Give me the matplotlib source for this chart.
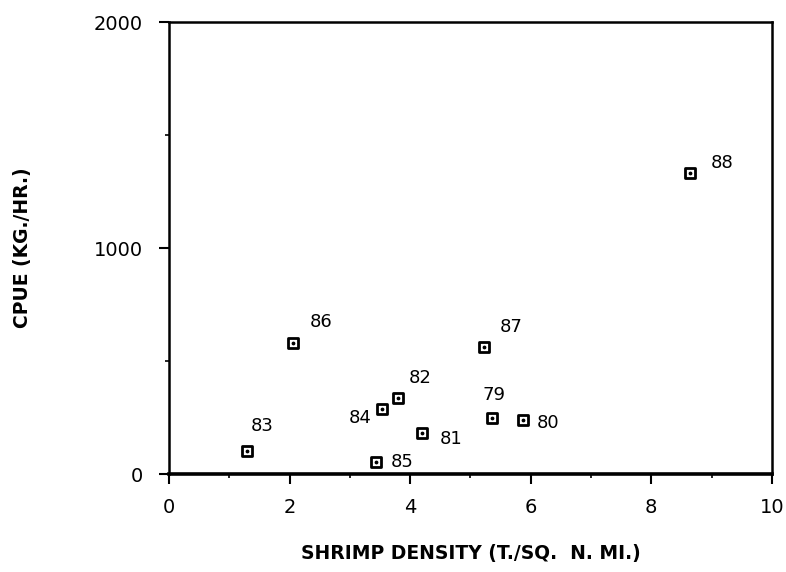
import matplotlib
matplotlib.use("Agg")
import matplotlib.pyplot as plt
from matplotlib.ticker import MultipleLocator

# shrimp density vs catch per unit effort, by year
years = ["79", "80", "81", "82", "83", "84", "85", "86", "87", "88"]
density = [5.36, 5.87, 4.19, 3.80, 1.30, 3.54, 3.44, 2.06, 5.22, 8.64]
cpue = [246, 239, 183, 338, 103, 286, 54, 581, 561, 1330]

# label offsets in pixels (dx, dy)
offsets = {"79": (2, 23), "80": (25, -3), "81": (30, -6), "82": (22, 20),
           "83": (15, 25), "84": (-22, -9), "85": (26, 0), "86": (28, 21),
           "87": (28, 20), "88": (32, 10)}

fig = plt.figure(figsize=(7.86, 5.72), dpi=100)
ax = fig.add_axes([0.215, 0.1713, 0.767, 0.7902])

ax.scatter(density, cpue, marker="s", s=55, facecolors="white",
           edgecolors="black", linewidths=2, zorder=3)
ax.scatter(density, cpue, marker="o", s=3, color="black", zorder=4)

for yr, x, y in zip(years, density, cpue):
    dx, dy = offsets[yr]
    ax.annotate(yr, (x, y), xytext=(dx, dy), textcoords="offset pixels",
                ha="center", va="center", fontsize=13, family="DejaVu Sans")

ax.set_xlim(0, 10)
ax.set_ylim(0, 2000)
ax.xaxis.set_major_locator(MultipleLocator(2))
ax.xaxis.set_minor_locator(MultipleLocator(1))
ax.yaxis.set_major_locator(MultipleLocator(1000))
ax.yaxis.set_minor_locator(MultipleLocator(500))

ax.tick_params(axis="both", which="major", direction="out", length=7,
               width=1.5, labelsize=14, pad=10)
ax.tick_params(axis="both", which="minor", direction="out", length=3, width=1.2)
ax.tick_params(axis="y", which="major", pad=12)

for s in ax.spines.values():
    s.set_linewidth(1.8)
ax.spines["bottom"].set_linewidth(2.6)

ax.set_xlabel("SHRIMP DENSITY (T./SQ.  N. MI.)", fontsize=13.5,
              fontweight="heavy", labelpad=20)
ax.set_ylabel("CPUE (KG./HR.)", fontsize=13.5, fontweight="heavy", labelpad=44)

fig.savefig("out.png", dpi=100)
